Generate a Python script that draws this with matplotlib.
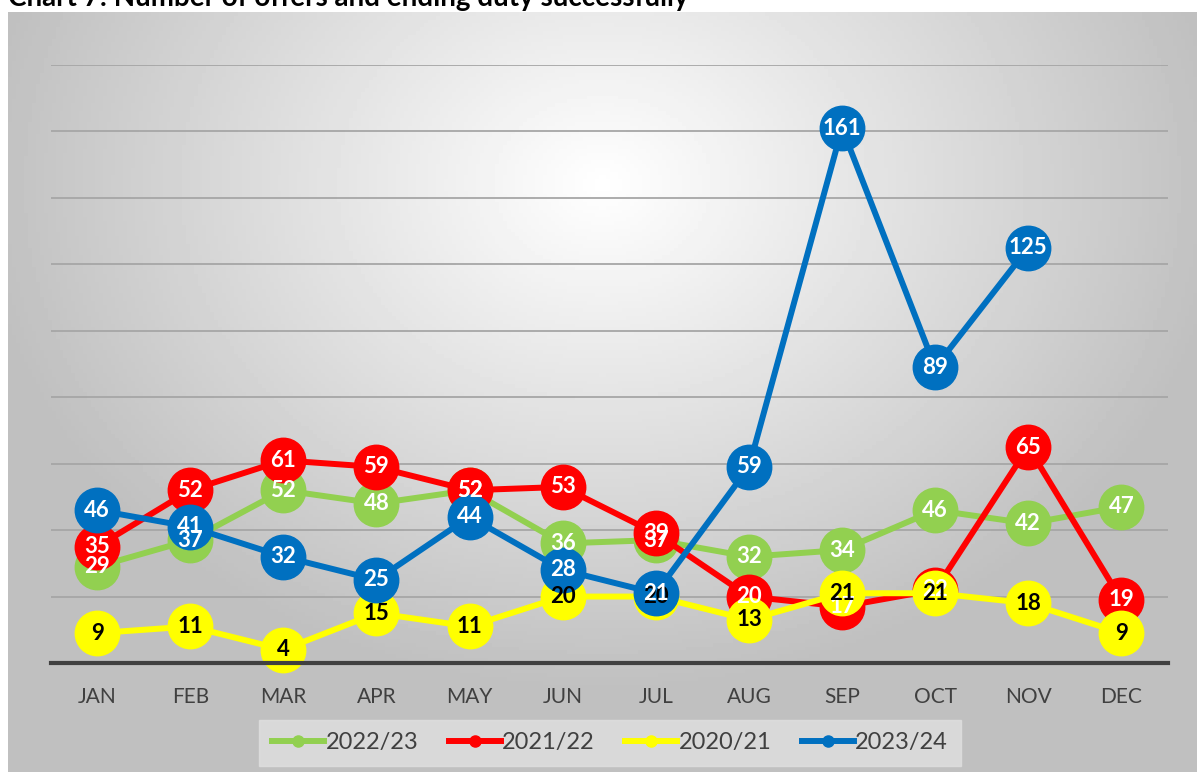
import numpy as np
import matplotlib
matplotlib.use("Agg")
import matplotlib.pyplot as plt
from matplotlib.lines import Line2D

months = ["JAN", "FEB", "MAR", "APR", "MAY", "JUN", "JUL", "AUG", "SEP", "OCT", "NOV", "DEC"]
y2223 = [29, 37, 52, 48, 52, 36, 37, 32, 34, 46, 42, 47]
y2122 = [35, 52, 61, 59, 52, 53, 39, 20, 17, 22, 65, 19]
y2021 = [9, 11, 4, 15, 11, 20, 20, 13, 21, 21, 18, 9]
y2324 = [46, 41, 32, 25, 44, 28, 21, 59, 161, 89, 125, np.nan]

series = [
    ("2022/23", y2223, "#92d050", "white"),
    ("2021/22", y2122, "#ff0000", "white"),
    ("2020/21", y2021, "#ffff00", "black"),
    ("2023/24", y2324, "#0070c0", "white"),
]

W, H = 1197, 772
fig = plt.figure(figsize=(W / 100, H / 100), dpi=100)
fig.patch.set_facecolor("white")

# gradient background of the chart frame
bg = fig.add_axes([8 / W, 0, 1 - 8 / W, 1 - 12 / H])
gx, gy = np.meshgrid(np.linspace(-1, 1, 300), np.linspace(-1, 1, 200))
r = np.sqrt(((gx - 0.0) / 1.1) ** 2 + ((gy + 0.55) / 1.4) ** 2)
shade = np.clip(1.0 - 0.26 * r, 0.75, 1.0)
bg.imshow(shade, cmap="gray", vmin=0, vmax=1, aspect="auto", extent=[0, 1, 0, 1])
bg.set_xlim(0, 1)
bg.set_ylim(0, 1)
bg.axis("off")

fig.text(8 / W, 1 - 6 / H, "Chart 7: Number of offers and ending duty successfully",
         fontsize=20, fontweight="bold", family="Lato", va="baseline", ha="left")

ax = fig.add_axes([50.5 / W, 1 - 663 / H, (1168 - 50.5) / W, (663 - 65) / H])
ax.set_facecolor("none")
x = np.arange(len(months))
for name, vals, col, tcol in series:
    ax.plot(x, vals, color=col, lw=4.3, marker="o", ms=32, mec=col, mfc=col,
            solid_capstyle="round", label=name, clip_on=False)
    for xi, v in zip(x, vals):
        if np.isnan(v):
            continue
        ax.text(xi, v, str(v), color=tcol, ha="center", va="center",
                fontsize=16, fontweight="bold", family="Lato", zorder=5)

ax.set_xlim(-0.5, 11.5)
ax.set_ylim(0, 180)
ax.set_yticks(np.arange(20, 181, 20))
ax.yaxis.grid(True, color="#a6a6a6", lw=1.3)
ax.set_axisbelow(True)
ax.tick_params(axis="y", left=False, labelleft=False)
ax.set_xticks(x)
ax.set_xticklabels(months, fontsize=15, family="Lato", color="#404040")
ax.tick_params(axis="x", length=0, pad=17)
for s in ["top", "right", "left"]:
    ax.spines[s].set_visible(False)
ax.spines["bottom"].set_color("#404040")
ax.spines["bottom"].set_linewidth(3)

handles = [Line2D([0], [0], color=c, lw=4.3, marker="o", ms=8, mfc=c, mec=c)
           for _, _, c, _ in series]
leg = fig.legend(handles, [s[0] for s in series], loc="center",
                 bbox_to_anchor=(610 / W, 1 - 743 / H), ncol=4,
                 frameon=True, fancybox=False,
                 prop={"family": "Lato", "size": 17}, handlelength=2.2,
                 columnspacing=1.3, handletextpad=0.05, borderpad=0.55)
leg.get_frame().set_facecolor("#e0e0e0")
leg.get_frame().set_edgecolor("#e0e0e0")
for t in leg.get_texts():
    t.set_color("#404040")

fig.savefig("out.png", dpi=100)
